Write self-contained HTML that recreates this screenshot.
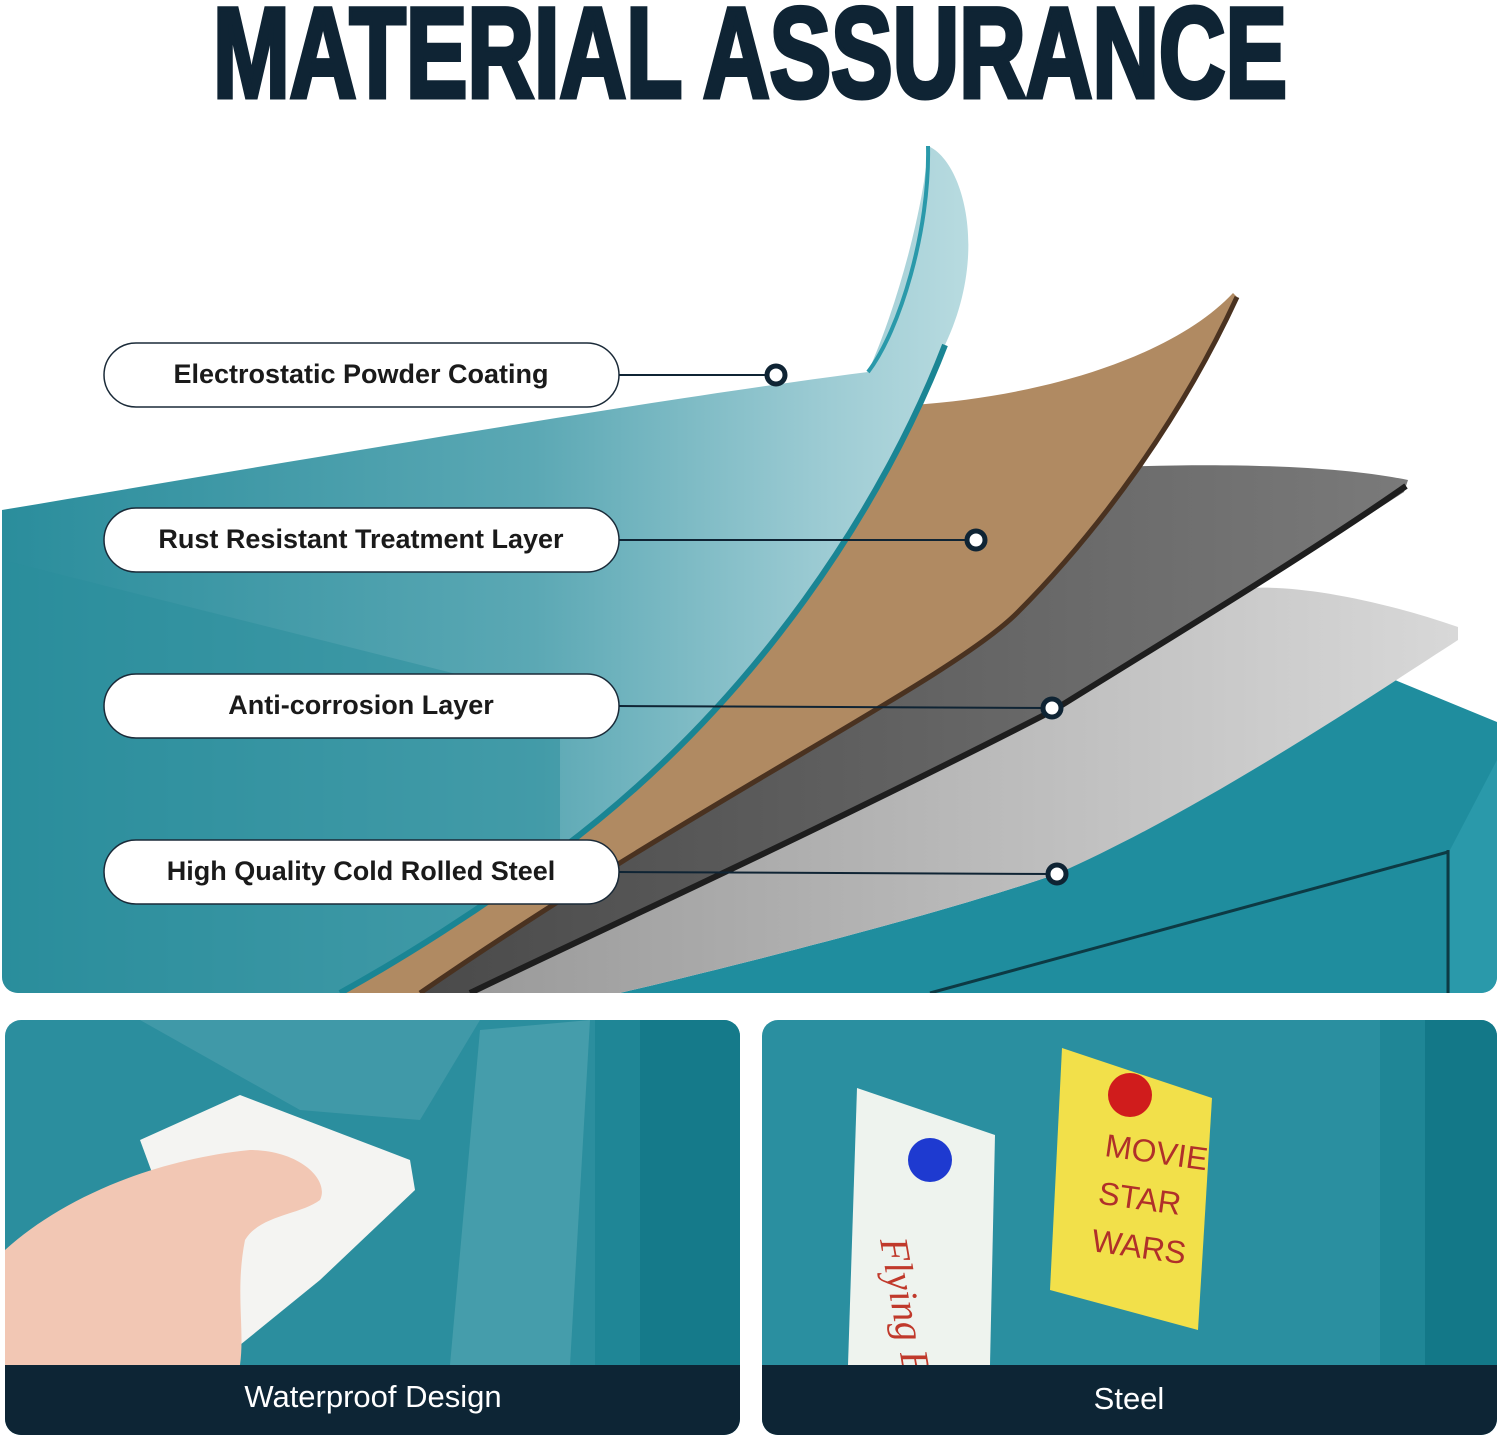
<!DOCTYPE html>
<html><head><meta charset="utf-8"><style>
html,body{margin:0;padding:0;background:#fff;}
svg{display:block;}
</style></head><body>
<svg width="1500" height="1438" viewBox="0 0 1500 1438" xmlns="http://www.w3.org/2000/svg">
<defs>
<linearGradient id="sheet" x1="0" y1="0" x2="1" y2="0">
<stop offset="0" stop-color="#2a8d9c"/><stop offset="0.55" stop-color="#5ba8b4"/><stop offset="0.85" stop-color="#9ccbd3"/><stop offset="1" stop-color="#b8dbe0"/>
</linearGradient>
<linearGradient id="lg" x1="0" y1="0" x2="1" y2="0">
<stop offset="0" stop-color="#9a9a9a"/><stop offset="1" stop-color="#d8d8d8"/>
</linearGradient>
<linearGradient id="dg" x1="0" y1="0" x2="1" y2="0">
<stop offset="0" stop-color="#4a4a4a"/><stop offset="1" stop-color="#7a7a7a"/>
</linearGradient>
<clipPath id="top"><rect x="2" y="0" width="1495" height="993" rx="16"/></clipPath>
<clipPath id="bl"><rect x="5" y="1020" width="735" height="415" rx="16"/></clipPath>
<clipPath id="br"><rect x="762" y="1020" width="735" height="415" rx="16"/></clipPath>
</defs>

<text x="213" y="97" textLength="1074" lengthAdjust="spacingAndGlyphs" font-family="Liberation Sans, sans-serif" font-weight="bold" font-size="128" fill="#0f2434" stroke="#0f2434" stroke-width="5">MATERIAL ASSURANCE</text>

<g clip-path="url(#top)">
<!-- cabinet -->
<path d="M1395,680 C 1250,770 1150,830 1057,874 C 950,910 800,950 620,993 L1497,993 L1497,722 Z" fill="#1f8d9e"/>
<path d="M1497,760 L1497,993 L1450,993 L1450,850 Z" fill="#2a99aa"/>
<path d="M1448,850 L1448,993 M1448,852 L930,993" stroke="#0d3a44" stroke-width="3" fill="none"/>
<!-- light grey -->
<path d="M1458,627 C 1380,600 1300,585 1250,588 L 900,780 L470,993 L620,993 C 800,950 950,910 1057,874 C 1200,810 1350,710 1458,640 Z" fill="url(#lg)"/>
<!-- dark grey -->
<path d="M1117,467 C 1250,462 1350,468 1408,480 L1404,492 C 1300,560 1150,650 1054,710 C 800,840 600,930 470,993 L420,993 L850,713 Z" fill="url(#dg)"/>
<path d="M1406,486 C 1300,560 1150,650 1054,710 C 800,840 600,930 470,993" stroke="#1e1e1e" stroke-width="6" fill="none"/>
<!-- brown -->
<path d="M1233,293 C 1180,350 1060,395 912,405 L 600,800 L340,993 L420,993 C 700,800 950,680 1017,613 C 1100,530 1180,420 1237,297 Z" fill="#b08a62"/>
<path d="M420,993 C 700,800 950,680 1017,613 C 1100,530 1180,420 1237,297" stroke="#4a3220" stroke-width="5" fill="none"/>
<!-- teal sheet -->
<path d="M2,510 C 300,460 650,400 868,372 C 900,300 925,200 928,146 C 962,160 990,250 945,345 C 885,500 760,700 560,850 C 480,910 400,960 340,993 L2,993 Z" fill="url(#sheet)"/>
<path d="M2,560 L2,993 L340,993 C 400,960 480,910 560,850 L560,700 Z" fill="#2a8d9c" opacity="0.5"/>
<path d="M928,146 C 930,230 900,330 868,372" stroke="#2a99aa" stroke-width="4" fill="none"/>
<path d="M945,345 C 885,500 760,700 560,850 C 480,910 400,960 340,993" stroke="#1a8594" stroke-width="6" fill="none"/>
</g>

<!-- labels -->
<g font-family="Liberation Sans, sans-serif" font-size="27" font-weight="bold" fill="#1a1a1a" text-anchor="middle">
<g fill="#fff" stroke="#1a2a38" stroke-width="1.5">
<rect x="104" y="343" width="515" height="64" rx="32"/>
<rect x="104" y="508" width="515" height="64" rx="32"/>
<rect x="104" y="674" width="515" height="64" rx="32"/>
<rect x="104" y="840" width="515" height="64" rx="32"/>
</g>
<text x="361" y="383">Electrostatic Powder Coating</text>
<text x="361" y="548">Rust Resistant Treatment Layer</text>
<text x="361" y="714">Anti-corrosion Layer</text>
<text x="361" y="880">High Quality Cold Rolled Steel</text>
</g>
<g stroke="#0f2434" stroke-width="2" fill="none">
<path d="M619,375 H776"/><path d="M619,540 H976"/><path d="M619,706 L1052,708"/><path d="M619,872 L1057,874"/>
</g>
<g fill="#fff" stroke="#0f2434" stroke-width="5">
<circle cx="776" cy="375" r="9"/><circle cx="976" cy="540" r="9"/><circle cx="1052" cy="708" r="9"/><circle cx="1057" cy="874" r="9"/>
</g>

<!-- bottom left -->
<g clip-path="url(#bl)">
<rect x="5" y="1020" width="735" height="415" fill="#2b8e9e"/>
<rect x="595" y="1020" width="45" height="350" fill="#1f8696"/>
<rect x="640" y="1020" width="100" height="350" fill="#157a8a"/>
<path d="M140,1020 L480,1020 L420,1120 L300,1110 Z" fill="#5aa7b3" opacity="0.45"/>
<path d="M480,1030 L590,1020 L570,1365 L450,1365 Z" fill="#6fb4bf" opacity="0.4"/>
<path d="M140,1140 L240,1095 L410,1160 L415,1190 L320,1280 L240,1345 L210,1330 Z" fill="#f4f4f2"/>
<path d="M5,1250 C 60,1200 150,1160 250,1150 C 300,1150 330,1180 320,1200 C 300,1215 260,1215 245,1240 C 235,1290 245,1330 240,1365 L5,1365 Z" fill="#f2c7b4"/>
<rect x="5" y="1365" width="735" height="70" fill="#0d2535"/>
<text x="373" y="1407" font-family="Liberation Sans, sans-serif" font-size="31" fill="#fff" text-anchor="middle">Waterproof Design</text>
</g>

<!-- bottom right -->
<g clip-path="url(#br)">
<rect x="762" y="1020" width="735" height="415" fill="#2a8fa0"/>
<rect x="1380" y="1020" width="45" height="350" fill="#1f8696"/>
<rect x="1425" y="1020" width="72" height="350" fill="#137888"/>
<path d="M857,1088 L995,1135 L990,1365 L848,1365 Z" fill="#eef3ee"/>
<text x="880" y="1240" font-family="Liberation Serif, serif" font-style="italic" font-size="40" fill="#c0392b" transform="rotate(80 880 1240)">Flying Birds</text>
<circle cx="930" cy="1160" r="22" fill="#1e3ad0"/>
<path d="M1062,1048 L1212,1098 L1198,1330 L1050,1290 Z" fill="#f2e04a"/>
<circle cx="1130" cy="1095" r="22" fill="#d01c1c"/>
<g font-family="Liberation Sans, sans-serif" font-size="32" fill="#b0302a" transform="rotate(8 1130 1200)">
<text x="1098" y="1160">MOVIE</text><text x="1098" y="1208">STAR</text><text x="1098" y="1256">WARS</text></g>
<rect x="762" y="1365" width="735" height="70" fill="#0d2535"/>
<text x="1129" y="1409" font-family="Liberation Sans, sans-serif" font-size="31" fill="#fff" text-anchor="middle">Steel</text>
</g>
</svg>
</body></html>
